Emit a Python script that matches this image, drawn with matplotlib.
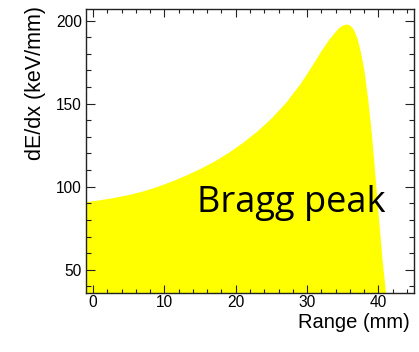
import matplotlib
matplotlib.use("Agg")
import matplotlib.pyplot as plt
from matplotlib.ticker import MultipleLocator

# Values
range_mm = [-1.0, 1.0, 3.0, 5.0, 7.0, 9.0, 11.0, 13.0, 15.0, 17.0, 19.0, 21.0,
            23.0, 25.0, 27.0, 29.0, 30.0, 31.0, 32.0, 33.0, 34.0, 34.5, 35.0,
            35.5, 36.0, 36.5, 37.0, 37.5, 38.0, 38.5, 39.0, 39.5, 40.0, 40.5,
            41.0, 41.3]
dedx = [91.0, 92.2, 93.6, 95.3, 97.5, 100.2, 103.4, 107.0, 111.0, 115.5, 120.8, 126.8,
        133.6, 141.5, 150.8, 162.0, 168.5, 175.3, 182.2, 188.5, 193.8, 196.0, 197.4,
        198.0, 197.3, 194.8, 189.5, 181.0, 169.5, 153.0, 133.0, 108.0, 82.0, 57.0,
        36.6, 26.0]

x_major = [0, 10, 20, 30, 40]
y_major = [50, 100, 150, 200]

plt.rcParams['font.family'] = ['Liberation Sans', 'DejaVu Sans']

fig = plt.figure(figsize=(4.19, 3.52), dpi=100)
ax = fig.add_axes([86/419, 1-293.3/352, (414-86)/419, (293.3-9)/352])

ax.fill_between(range_mm, dedx, 0, color='#ffff00', linewidth=0, zorder=1)

ax.set_xlim(-1, 45)
ax.set_ylim(35.8, 207)
ax.set_xticks(x_major)
ax.set_yticks(y_major)
ax.xaxis.set_minor_locator(MultipleLocator(2))
ax.yaxis.set_minor_locator(MultipleLocator(10))

frame_col = '#222222'
for s in ax.spines.values():
    s.set_color(frame_col)
    s.set_linewidth(1.0)
    s.set_zorder(5)

ax.tick_params(axis='both', which='both', direction='in', top=True, right=True,
               colors=frame_col, labelcolor='black', labelsize=11.2, width=0.8)
ax.tick_params(axis='y', which='major', length=6.5, pad=3)
ax.tick_params(axis='y', which='minor', length=3.4)
ax.tick_params(axis='x', which='major', length=5.5, pad=1.5)
ax.tick_params(axis='x', which='minor', length=2.7)

fig.text(410/419, 1-322/352, 'Range (mm)', ha='right', va='center', fontsize=14.5)
fig.text(36/419, 1-6/352, 'dE/dx (keV/mm)', ha='center', va='top', rotation=90, fontsize=15.5)

ax.text(14.5, 85, 'Bragg peak', ha='left', va='baseline', fontsize=26,
        family=['Open Sans', 'DejaVu Sans'], color='black', zorder=6)

fig.savefig('out.png', dpi=100, facecolor='white')
